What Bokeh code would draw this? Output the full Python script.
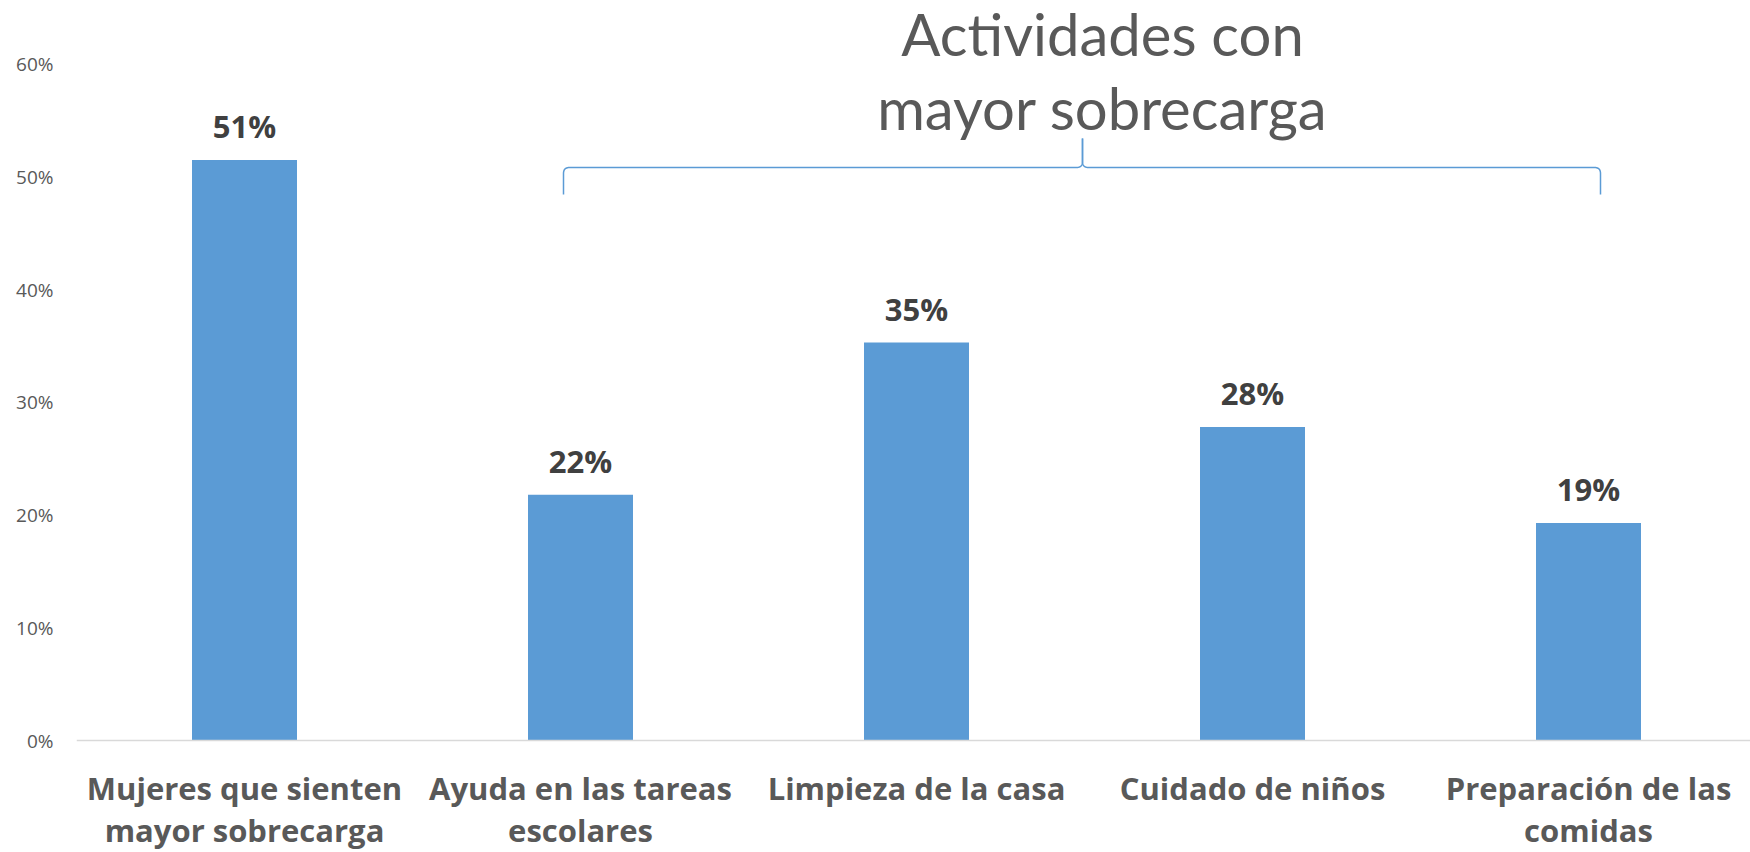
import numpy as np
from bokeh.plotting import figure
from bokeh.models import ColumnDataSource, LabelSet, Label, FixedTicker, Range1d, Span
from bokeh.core.properties import value
from bokeh.embed import file_html
from bokeh.resources import INLINE

# ---- data ----
categories = [
    "Mujeres que sienten\nmayor sobrecarga",
    "Ayuda en las tareas\nescolares",
    "Limpieza de la casa",
    "Cuidado de niños",
    "Preparación de las\ncomidas",
]
values = [51.5, 21.8, 35.3, 27.8, 19.3]
value_labels = ["51%", "22%", "35%", "28%", "19%"]
y_ticks = [0, 10, 20, 30, 40, 50, 60]
y_tick_labels = ["0%", "10%", "20%", "30%", "40%", "50%", "60%"]
title_lines = ["Actividades con", "mayor sobrecarga"]

BAR = "#5B9BD5"
GREY = "#595959"

W, H = 1750, 852
LEFT = 76
frame_w = W - LEFT
cat_px = 336.0
x_end = frame_w / cat_px
zero_px = 740.0                      # canvas y of the 0% line
px_per_pct = (zero_px - 63.6) / 60.0
y_end = zero_px / px_per_pct
y_start = -(H - zero_px) / px_per_pct

xs = [i + 0.5 for i in range(len(categories))]
line1 = [c.split("\n")[0] for c in categories]
line2 = [(c.split("\n") + [""])[1] for c in categories]
src = ColumnDataSource(dict(x=xs, top=values, lab=value_labels,
                            l1=line1, l2=line2, base=[0] * len(xs)))

p = figure(width=W, height=H, output_backend="svg", toolbar_location=None,
           x_range=Range1d(0, x_end), y_range=Range1d(y_start, y_end),
           x_axis_location=None,
           min_border_left=LEFT, min_border_bottom=0,
           min_border_top=0, min_border_right=0)
p.outline_line_color = None
p.xgrid.visible = False
p.ygrid.visible = False
p.background_fill_color = "white"
p.border_fill_color = "white"

# baseline (category axis line)
p.add_layout(Span(location=0, dimension="width", line_color="#D9D9D9",
                  line_width=1.5))

p.vbar(x="x", top="top", bottom=0, width=105 / cat_px, source=src,
       fill_color=BAR, line_color=None)

p.add_layout(LabelSet(x="x", y="top", text="lab", source=src, y_offset=22,
                      text_align="center", text_baseline="alphabetic",
                      text_font=value("Open Sans"), text_font_style="bold",
                      text_font_size=value("31px"), text_color="#404040"))

# category labels below the baseline (two centred lines)
for col, off in (("l1", -59), ("l2", -101)):
    p.add_layout(LabelSet(x="x", y="base", text=col, source=src, y_offset=off,
                          text_align="center", text_baseline="alphabetic",
                          text_font=value("Open Sans"), text_font_style="bold",
                          text_font_size=value("31px"), text_color=GREY))

p.yaxis.ticker = FixedTicker(ticks=y_ticks)
p.yaxis.major_label_overrides = {t: l for t, l in zip(y_ticks, y_tick_labels)}
p.yaxis.major_label_text_font = "Open Sans"
p.yaxis.major_label_text_font_size = "19px"
p.yaxis.major_label_text_color = GREY
p.yaxis.major_label_standoff = 23
p.yaxis.axis_line_color = None
p.yaxis.major_tick_line_color = None
p.yaxis.minor_tick_line_color = None
p.yaxis.major_tick_out = 0
p.yaxis.minor_tick_out = 0

# title text (annotation)
tx = (1102 - 76) / cat_px
for line, ref_base in zip(title_lines, [33, 107]):
    p.add_layout(Label(x=tx, y=(zero_px - ref_base) / px_per_pct, text=line,
                       text_align="center", text_baseline="alphabetic",
                       text_font="Lato", text_font_size="58px",
                       text_color=GREY))

# curly brace (annotation geometry)
def quad(p0, c, p1, n=12):
    t = np.linspace(0, 1, n)
    xq = (1 - t) ** 2 * p0[0] + 2 * (1 - t) * t * c[0] + t ** 2 * p1[0]
    yq = (1 - t) ** 2 * p0[1] + 2 * (1 - t) * t * c[1] + t ** 2 * p1[1]
    return list(xq), list(yq)

dx = 1 / cat_px
dy = 1 / px_per_pct
x0, x1, xm = (563 - 76) * dx, (1600 - 76) * dx, (1082 - 76) * dx
yh, yb, yp = (zero_px - 167) * dy, (zero_px - 194) * dy, (zero_px - 138) * dy
r = 6
lx, ly = [x0], [yb]
qx, qy = quad((x0, yh - r * dy), (x0, yh), (x0 + r * dx, yh)); lx += qx; ly += qy
qx, qy = quad((xm - r * dx, yh), (xm, yh), (xm, yh + r * dy)); lx += qx; ly += qy
lx += [xm]; ly += [yp]
rx, ry = [xm], [yp]
qx, qy = quad((xm, yh + r * dy), (xm, yh), (xm + r * dx, yh)); rx += qx; ry += qy
qx, qy = quad((x1 - r * dx, yh), (x1, yh), (x1, yh - r * dy)); rx += qx; ry += qy
rx += [x1]; ry += [yb]
p.line(lx, ly, line_color=BAR, line_width=1.5)
p.line(rx, ry, line_color=BAR, line_width=1.5)

open("out.html", "w").write(file_html(p, INLINE))
